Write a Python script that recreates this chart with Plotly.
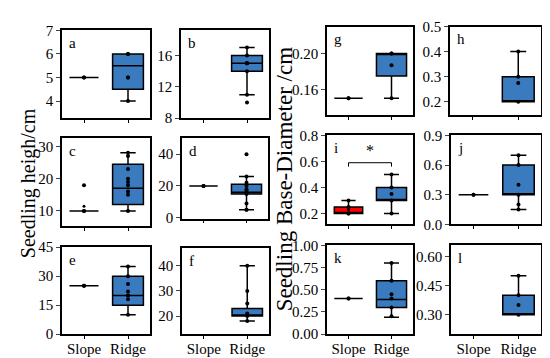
import plotly.graph_objects as go

categories = ["Slope", "Ridge"]
panels = ["a", "b", "c", "d", "e", "f", "g", "h", "i", "j", "k", "l"]

# Slope group stats (None = no data)
slope_q1 = [5, None, 10, 20, 25, None, 0.15, None, 0.20, 0.30, 0.40, None]
slope_med = [5, None, 10, 20, 25, None, 0.15, None, 0.20, 0.30, 0.40, None]
slope_q3 = [5, None, 10, 20, 25, None, 0.15, None, 0.25, 0.30, 0.40, None]
slope_lo = [5, None, 10, 20, 25, None, 0.15, None, 0.20, 0.30, 0.40, None]
slope_hi = [5, None, 10, 20, 25, None, 0.15, None, 0.30, 0.30, 0.40, None]
slope_mean = [5, None, 11.5, 20, 25, None, 0.15, None, 0.23, 0.30, 0.40, None]
slope_points = [[5, 5], [], [10, 10, 18], [20, 20], [25, 25], [], [0.15, 0.15],
                [], [0.30, 0.25, 0.20, 0.20], [0.30, 0.30], [0.40, 0.40], []]

# Ridge group stats
ridge_q1 = [4.5, 14, 12, 15, 15, 20, 0.175, 0.20, 0.30, 0.30, 0.30, 0.30]
ridge_med = [5.5, 15, 17, 16, 20, 20, 0.20, 0.20, 0.30, 0.30, 0.39, 0.30]
ridge_q3 = [6, 16, 24.5, 21, 30, 23, 0.20, 0.30, 0.40, 0.60, 0.60, 0.40]
ridge_lo = [4, 11, 10, 5, 10, 18, 0.15, 0.20, 0.20, 0.15, 0.19, 0.30]
ridge_hi = [6, 17, 28, 26, 35, 40, 0.20, 0.40, 0.50, 0.70, 0.80, 0.50]
ridge_mean = [5, 15, 19, 17, 22, 25, 0.187, 0.275, 0.35, 0.40, 0.45, 0.35]
ridge_points = [[6, 6, 5, 4], [17, 16, 15, 15, 14, 11, 10], [28, 27, 23, 20, 18, 16, 15, 10],
                [40, 26, 22, 20, 18, 16, 15, 9, 5, 5], [35, 30, 26, 20, 20, 18, 10],
                [40, 30, 21, 20, 18], [0.20, 0.20, 0.15], [0.40, 0.30, 0.20],
                [0.50, 0.40, 0.30, 0.20], [0.70, 0.60, 0.30, 0.20, 0.15],
                [0.80, 0.60, 0.40, 0.30, 0.20], [0.50, 0.40, 0.30]]

y_ranges = [[3.27, 7], [8, 19.2], [5.3, 32.5], [-0.5, 50], [0, 45], [12.8, 47],
            [0.131, 0.2303], [0.146, 0.5], [0.117, 0.8], [0, 0.9], [0, 1.0], [0.2, 0.657]]
y_ticks = [[4, 5, 6, 7], [8, 12, 16], [10, 20, 30], [0, 20, 40], [0, 15, 30, 45],
           [20, 30, 40], [0.16, 0.20], [0.2, 0.3, 0.4, 0.5], [0.2, 0.4, 0.6, 0.8],
           [0.0, 0.3, 0.6, 0.9], [0.0, 0.25, 0.5, 0.75, 1.0], [0.30, 0.45, 0.60]]
y_tick_fmt = ["d", "d", "d", "d", "d", "d", ".2f", ".1f", ".1f", ".1f", ".2f", ".2f"]
slope_colors = ["#3a7bbf"] * 8 + ["#ff0000"] + ["#3a7bbf"] * 3
ridge_color = "#3a7bbf"

# panel frames in pixels (x0, x1, y0, y1) from top-left
W, H = 550, 358
frames = [(54, 142, 15, 107), (173, 261, 15, 107),
          (54, 142, 128, 220), (174, 260, 128, 212),
          (54, 142, 242, 333), (174, 261, 243, 333),
          (319, 405, 11, 104), (442, 533, 11, 104),
          (319, 405, 125, 218), (443, 533, 125, 218),
          (319, 405, 240, 333), (443, 533, 240, 333)]

FONT = "Liberation Serif"
fig = go.Figure()
layout = {}
annotations = []
shapes = []

for i, p in enumerate(panels):
    n = i + 1
    xa = "x" if n == 1 else f"x{n}"
    ya = "y" if n == 1 else f"y{n}"
    x0, x1, y0, y1 = frames[i]
    bottom_row = i in (4, 5, 10, 11)
    layout["xaxis" if n == 1 else f"xaxis{n}"] = dict(
        domain=[x0 / W, x1 / W], anchor=ya, range=[-0.5, 1.5],
        tickvals=[0, 1], ticktext=categories if bottom_row else ["", ""],
        ticks="", showline=True, linewidth=1.5,
        minor=dict(tickvals=[0, 1], ticks="outside", ticklen=3, tickwidth=1,
                   tickcolor="black", showgrid=False),
        linecolor="black", mirror=True, showgrid=False, zeroline=False,
        tickfont=dict(family=FONT, size=15, color="black"))
    layout["yaxis" if n == 1 else f"yaxis{n}"] = dict(
        domain=[1 - y1 / H, 1 - y0 / H], anchor=xa, range=y_ranges[i],
        tickvals=y_ticks[i], tickformat=y_tick_fmt[i],
        ticks="outside", ticklen=4, tickwidth=1, showline=True, linewidth=1.5,
        linecolor="black", mirror=True, showgrid=False, zeroline=False,
        tickfont=dict(family=FONT, size=15, color="black"))

    if slope_q1[i] is not None:
        fig.add_trace(go.Box(x=[0], q1=[slope_q1[i]], median=[slope_med[i]], q3=[slope_q3[i]],
                             lowerfence=[slope_lo[i]], upperfence=[slope_hi[i]],
                             width=0.66, whiskerwidth=0.5, fillcolor=slope_colors[i],
                             line=dict(color="black", width=1.5), boxpoints=False,
                             xaxis=xa, yaxis=ya, showlegend=False))
        fig.add_trace(go.Scatter(x=[0] * len(slope_points[i]), y=slope_points[i], mode="markers",
                                 marker=dict(color="black", size=4), xaxis=xa, yaxis=ya,
                                 showlegend=False))
        fig.add_trace(go.Scatter(x=[0], y=[slope_mean[i]], mode="markers",
                                 marker=dict(color="black", size=3), xaxis=xa, yaxis=ya,
                                 showlegend=False))
    fig.add_trace(go.Box(x=[1], q1=[ridge_q1[i]], median=[ridge_med[i]], q3=[ridge_q3[i]],
                         lowerfence=[ridge_lo[i]], upperfence=[ridge_hi[i]],
                         width=0.7, whiskerwidth=0.5, fillcolor=ridge_color,
                         line=dict(color="black", width=1.5), boxpoints=False,
                         xaxis=xa, yaxis=ya, showlegend=False))
    fig.add_trace(go.Scatter(x=[1] * len(ridge_points[i]), y=ridge_points[i], mode="markers",
                             marker=dict(color="black", size=4), xaxis=xa, yaxis=ya,
                             showlegend=False))
    fig.add_trace(go.Scatter(x=[1], y=[ridge_mean[i]], mode="markers",
                             marker=dict(color="black", size=4), xaxis=xa, yaxis=ya,
                             showlegend=False))
    annotations.append(dict(text=p, xref=f"{xa} domain", yref=f"{ya} domain", x=0.06, y=0.97,
                            xanchor="left", yanchor="top", showarrow=False,
                            font=dict(family=FONT, size=15, color="black")))

# significance bracket in panel i
shapes.append(dict(type="path", xref="x9", yref="y9", path="M 0,0.56 L 0,0.59 L 1,0.59 L 1,0.56",
                   line=dict(color="black", width=1)))
annotations.append(dict(text="*", xref="x9", yref="y9", x=0.5, y=0.6, yanchor="bottom",
                        showarrow=False, font=dict(family=FONT, size=16, color="black")))

annotations.append(dict(text="Seedling heigh/cm", xref="paper", yref="paper", x=20 / W, y=1 - 175 / H,
                        xanchor="center", yanchor="middle",
                        textangle=-90, showarrow=False, font=dict(family=FONT, size=20, color="black")))
annotations.append(dict(text="Seedling Base-Diameter /cm", xref="paper", yref="paper", x=276 / W,
                        y=1 - 171 / H, xanchor="center", yanchor="middle", textangle=-90,
                        showarrow=False, font=dict(family=FONT, size=23, color="black")))

fig.update_layout(width=W, height=H, margin=dict(l=0, r=0, t=0, b=0),
                  font=dict(family=FONT, size=15, color="black"),
                  paper_bgcolor="white", plot_bgcolor="white", annotations=annotations,
                  shapes=shapes, **layout)
fig.write_html("out.html")
